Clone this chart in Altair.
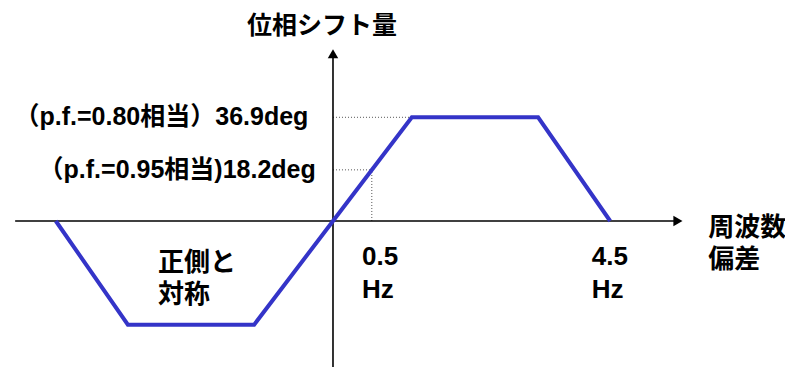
import altair as alt
import pandas as pd

# Trapezoid phase-shift characteristic (x: frequency deviation [Hz, schematic], y: phase shift [deg])
line_x = [-4.5, -3.33, -1.28, 0.0, 1.28, 3.33, 4.5]
line_y = [0.0, -36.9, -36.9, 0.0, 36.9, 36.9, 0.0]

# reference levels (deg) and the 0.5 Hz marker
level_y = [36.9, 18.2]
level_x_end = [1.28, 0.63]
marker_x = [0.63]

# axis extents
xaxis_range = [-5.16, 5.55]
yaxis_range = [-52.0, 59.0]

# annotation texts
right_texts = ["（p.f.=0.80相当）36.9deg", "（p.f.=0.95相当)18.2deg"]
right_x = [-0.40, -0.28]
right_y = [36.9, 18.2]

left_texts = ["0.5", "Hz", "4.5", "Hz", "周波数", "偏差", "正側と", "対称"]
left_x = [0.47, 0.47, 4.20, 4.20, 6.09, 6.09, -2.84, -2.84]
left_y = [-12.8, -24.6, -12.8, -24.6, -2.5, -13.9, -14.9, -26.3]

title_text = ["位相シフト量"]
title_x = [-0.18]
title_y = [69.4]

XD = [-5.276, 7.338]
YD = [-51.96, 75.8]
xs = alt.Scale(domain=XD, nice=False, zero=False)
ys = alt.Scale(domain=YD, nice=False, zero=False)
FONT = "Liberation Sans, Arial, Noto Sans CJK JP"

X = lambda f="x": alt.X(f"{f}:Q", scale=xs, axis=None)
Y = lambda f="y": alt.Y(f"{f}:Q", scale=ys, axis=None)

# axes lines
ax_df = pd.DataFrame({
    "x": [xaxis_range[0], 0.0], "x2": [xaxis_range[1], 0.0],
    "y": [0.0, yaxis_range[0]], "y2": [0.0, yaxis_range[1]],
})
axes = alt.Chart(ax_df).mark_rule(color="black", strokeWidth=1.6).encode(
    x=X(), x2="x2:Q", y=Y(), y2="y2:Q")

arrows_df = pd.DataFrame({"x": [0.0, xaxis_range[1] + 0.05], "y": [yaxis_range[1] + 0.5, 0.0],
                          "s": ["triangle-up", "triangle-right"]})
arrows = alt.Chart(arrows_df).mark_point(filled=True, color="black", opacity=1, size=110).encode(
    x=X(), y=Y(), shape=alt.Shape("s:N", scale=alt.Scale(domain=["triangle-up", "triangle-right"],
                                                          range=["triangle-up", "triangle-right"]), legend=None))

# dotted guide lines
lv_df = pd.DataFrame({"x": [0.0, 0.0], "x2": level_x_end, "y": level_y})
levels = alt.Chart(lv_df).mark_rule(color="#555555", strokeWidth=1, strokeDash=[1, 2]).encode(
    x=X(), x2="x2:Q", y=Y())
mk_df = pd.DataFrame({"x": marker_x, "y": [0.0], "y2": [level_y[1]]})
marker = alt.Chart(mk_df).mark_rule(color="#555555", strokeWidth=1, strokeDash=[1, 2]).encode(
    x=X(), y=Y(), y2="y2:Q")

line_df = pd.DataFrame({"x": line_x, "y": line_y, "o": list(range(len(line_x)))})
line = alt.Chart(line_df).mark_line(color="#3434c8", strokeWidth=4, strokeJoin="miter").encode(
    x=X(), y=Y(), order="o:Q")

rt = alt.Chart(pd.DataFrame({"t": right_texts, "x": right_x, "y": right_y})).mark_text(
    align="right", baseline="middle", font=FONT, fontSize=25, fontWeight="bold", color="black").encode(
    x=X(), y=Y(), text="t:N")
lt = alt.Chart(pd.DataFrame({"t": left_texts, "x": left_x, "y": left_y})).mark_text(
    align="left", baseline="middle", font=FONT, fontSize=26, fontWeight="bold", color="black").encode(
    x=X(), y=Y(), text="t:N")
tt = alt.Chart(pd.DataFrame({"t": title_text, "x": title_x, "y": title_y})).mark_text(
    align="center", baseline="middle", font=FONT, fontSize=25, fontWeight="bold", color="black").encode(
    x=X(), y=Y(), text="t:N")

chart = alt.layer(levels, marker, axes, arrows, line, rt, lt, tt).properties(
    width=777, height=359, padding=0, autosize="none"
).configure_view(stroke=None)

chart.save("out.html", embed_options={"renderer": "svg", "actions": False})
